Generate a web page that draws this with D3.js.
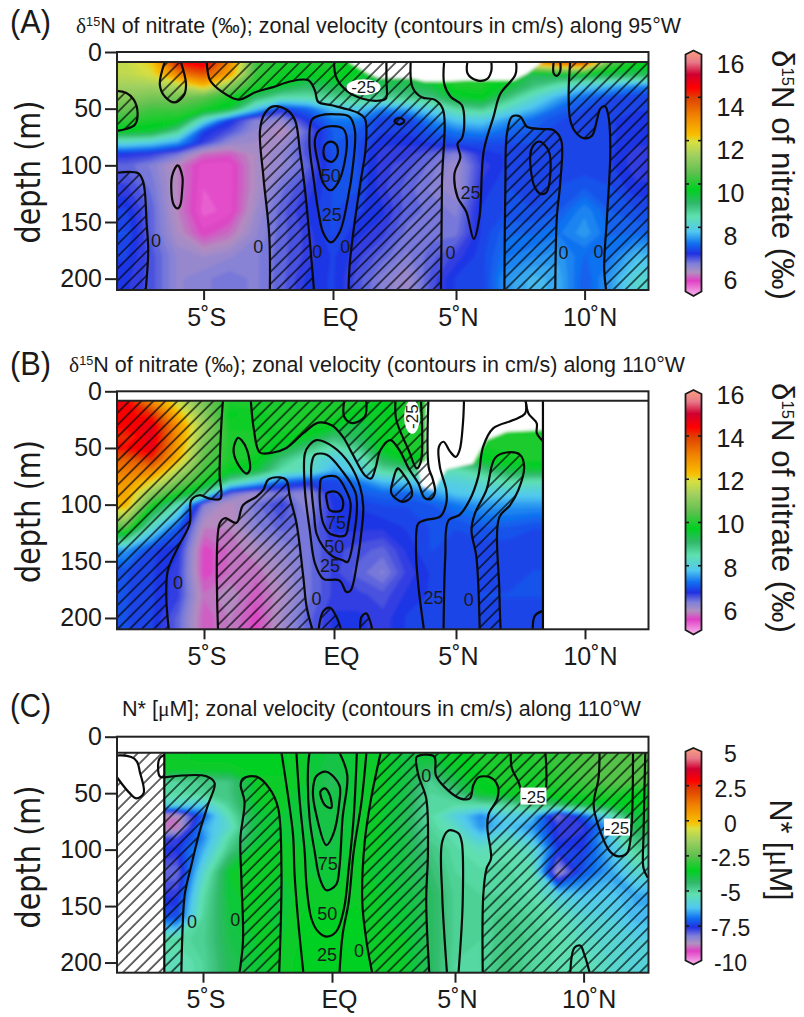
<!DOCTYPE html>
<html>
<head>
<meta charset="utf-8">
<script src="https://cdnjs.cloudflare.com/ajax/libs/d3/7.8.5/d3.min.js"></script>
<style>
body { margin: 0; background: #fff; }
text { font-family: "Liberation Sans", Arial, sans-serif; fill: #1a1a1a; }
</style>
</head>
<body>
<svg width="804" height="1017"></svg>
<script>
// Grid the colour fields were read on
var depthRows = [10, 20, 30, 40, 50, 60, 70, 80, 90, 100, 120, 140, 160, 180, 200];
var latRows = [-8, -7, -6, -5, -4, -3, -2, -1, 0, 1, 2, 3, 4, 5, 6, 7, 8, 9, 10, 11, 12];
var latRowsB = [-8, -7, -6, -5, -4, -3, -2, -1, 0, 1, 2, 3, 4, 5, 6, 7, 8, 9];

// d15N of nitrate along 95W
var fieldA = [
  [11.7, 12.1, 14.2, 14.6, 13, 10.3, 10, 10, 10, 9.8, 9.5, 9.4, 9.5, 9.5, 9.5, 9.5, 12.5, 13.3, 13.5, 10.5, 9.9],
  [11.6, 11.9, 13, 13.6, 12.6, 10.2, 9.9, 9.8, 9.9, 9.7, 9.4, 9.4, 9.6, 10, 10, 9.8, 9.3, 9.5, 9.6, 9.4, 9.3],
  [11.3, 11.3, 11.5, 12.3, 11, 10, 9.6, 9.2, 9.4, 9.5, 9.3, 9.3, 9.5, 10, 10, 9.6, 9, 8.5, 8, 7.8, 7.5],
  [11, 10.8, 10.8, 10.5, 10, 9.2, 8.6, 8.6, 8.8, 9, 8.8, 8.9, 9, 9.6, 9.8, 9, 8.3, 7.7, 7.3, 7.1, 7],
  [10.6, 10.3, 10.3, 10, 9.6, 8, 7, 7.3, 7.9, 8, 7.5, 7.7, 8.1, 8.7, 8.9, 8.3, 7.8, 7.3, 7.1, 7, 7],
  [10.2, 10, 9.9, 8.3, 7, 6.4, 6.3, 6.9, 7.4, 7.4, 7, 7, 7.5, 7.9, 8, 7.6, 7.3, 7.1, 7, 7, 6.9],
  [9.7, 9.6, 8.8, 7, 6.7, 6.3, 6, 6.6, 7.2, 7.2, 7, 7, 7.2, 7.4, 7.5, 7.3, 7.2, 7, 7, 7, 6.9],
  [8.2, 8, 7.6, 6.8, 6.3, 6.2, 6.2, 6.7, 7.2, 7.1, 6.9, 6.9, 7, 7.1, 7.1, 7.1, 7.1, 7, 7, 7, 6.9],
  [6.9, 6.8, 6.5, 5.9, 5.8, 6.1, 6.3, 6.7, 7.1, 7.1, 6.8, 6.8, 6.6, 6.4, 6.9, 7, 7, 7, 7, 7, 6.8],
  [6.6, 6.4, 6, 5.6, 5.6, 6.1, 6.3, 6.6, 7.1, 7.1, 6.8, 6.7, 6.5, 6.2, 6.8, 7, 7, 7, 7, 7, 6.8],
  [6.8, 6.5, 6, 5.55, 5.6, 6.1, 6.5, 6.8, 7.1, 7.1, 6.8, 6.6, 6.4, 6.2, 6.9, 7.1, 7, 7.1, 7.2, 7.1, 6.9],
  [7, 6.6, 6, 5.5, 5.6, 6.2, 6.6, 6.9, 7.1, 7, 6.9, 6.6, 6.5, 6.4, 7, 7.1, 7.1, 7.2, 7.5, 7.2, 7.1],
  [7.1, 6.6, 6.1, 5.7, 5.9, 6.3, 6.6, 6.8, 7.1, 6.9, 6.8, 6.5, 6.5, 6.5, 7, 7.3, 7.3, 7.4, 7.6, 7.3, 7.3],
  [7, 6.7, 6.3, 6.2, 6.3, 6.4, 6.6, 6.8, 7, 6.8, 6.6, 6.4, 6.6, 6.8, 7.05, 7.4, 7.5, 7.6, 7.3, 7.4, 7.8],
  [6.9, 6.7, 6.3, 6.4, 6.5, 6.4, 6.6, 6.9, 7, 6.7, 6.4, 6.2, 6.7, 7, 7, 7.6, 7.8, 7.7, 7.2, 7.6, 8.2]
];

// d15N of nitrate along 110W
var fieldB = [
  [14.5, 13, 11.8, 10.8, 10, 10, 10, 10, 10, 10, 9.8, 10, 10, 10, 10, 10, 10, 10],
  [14.4, 14, 12.3, 11, 9.8, 9.9, 10, 10, 10, 9.7, 9.7, 10, 9.9, 10, 10, 10, 10, 10],
  [14.4, 14.6, 12.8, 11.2, 9.9, 9.9, 10, 10, 9.8, 9.4, 9.7, 10, 10, 10, 10, 9.8, 9.6, 9.6],
  [14, 14.7, 12.8, 11, 10, 10, 9.9, 9.7, 9.1, 9.3, 9.8, 10, 10, 10, 10, 10, 10, 10],
  [14.3, 14.6, 12.6, 10.7, 10, 10, 9.6, 9, 8.5, 8.9, 9.8, 10, 10, 10, 9.9, 10, 10, 10],
  [13.5, 14, 12.3, 10.5, 10, 9.9, 9, 8.4, 8, 8.3, 9.3, 9.8, 9.5, 9.3, 9.7, 9.9, 10, 10],
  [13.2, 13, 11.5, 10.3, 9.8, 9.5, 8.6, 8.4, 7.7, 8.1, 8.7, 8.9, 8.7, 8.5, 8.9, 9.4, 9.5, 9.5],
  [12.8, 12, 10.8, 10, 8.7, 8, 7.3, 7, 7, 7.4, 7.8, 7.9, 8, 8.1, 8.3, 8.6, 8.5, 8.5],
  [12.6, 11, 10, 8.8, 6.6, 6.2, 6.5, 6.3, 7, 7.2, 7.3, 7.3, 7.6, 7.9, 8, 8, 8, 8],
  [12.4, 10, 8.5, 6.4, 6, 6.5, 6.8, 6.3, 6.9, 7, 7.1, 7.1, 7.2, 7.4, 7.6, 7.6, 7.6, 7.6],
  [10.5, 8.3, 7.2, 6, 6, 6.4, 6.6, 6.5, 6.9, 6.9, 6.9, 7, 7.1, 7.1, 7.2, 7.2, 7.1, 7.1],
  [7.6, 7, 6.9, 5.7, 5.9, 6.1, 6.3, 6.5, 6.8, 6.7, 6.6, 6.9, 7.1, 7, 7, 7, 7, 7],
  [7.1, 7, 6.8, 5.7, 5.9, 5.9, 6.2, 6.5, 6.8, 6.6, 6.4, 6.8, 7, 7, 7, 7, 7.1, 7.1],
  [7.1, 7, 6.8, 5.9, 6.1, 5.8, 6.1, 6.5, 6.8, 6.8, 6.7, 6.9, 7, 7, 7.1, 7.1, 7.1, 7.1],
  [7.1, 7, 6.6, 5.8, 6, 5.7, 6.2, 6.6, 6.9, 6.9, 6.8, 7, 7, 7, 7, 7, 7, 7]
];

// N* along 110W
var fieldC = [
  [-3.5, -3.5, -3.6, -3.5, -3.5, -3.5, -3.5, -3.7, -3.9, -3.7, -3.6, -3.9, -3.8, -3.5, -3.2, -3.2, -3.1, -3, -2.8, -2.5, -2.6],
  [-3.5, -3.5, -3.6, -3.5, -3.5, -3.5, -3.5, -3.7, -3.9, -3.7, -3.6, -3.9, -3.8, -3.6, -3.2, -3.2, -3.1, -2.9, -2.7, -2.5, -2.6],
  [-3.6, -3.6, -3.7, -3.7, -3.7, -3.5, -3.5, -3.7, -4, -3.7, -3.6, -3.9, -4.3, -3.7, -3.3, -3.1, -3.2, -2.9, -2.7, -2.5, -2.6],
  [-4.9, -4.9, -4.9, -4.7, -4.6, -3.7, -3.6, -3.7, -4.2, -3.7, -3.6, -3.9, -4.8, -4, -3.5, -3.1, -3.3, -3, -2.8, -2.5, -2.6],
  [-5, -5, -5, -4.8, -4.6, -3.7, -3.6, -3.8, -4, -3.7, -3.6, -4, -4.9, -4.6, -3.6, -3.4, -3.4, -3.2, -3.1, -3, -3.4],
  [-5.6, -5.6, -5.6, -5.9, -4.8, -3.7, -3.6, -3.9, -4, -3.7, -3.6, -4, -5, -5, -5, -4.9, -4.4, -4.2, -3.8, -3.6, -3.5],
  [-8.6, -8.6, -8.6, -7, -5.2, -3.9, -3.7, -3.9, -4, -3.7, -3.7, -4.1, -5, -5.8, -6.6, -5.8, -6.1, -8, -7, -5.5, -3.9],
  [-8.8, -8.8, -8.8, -6.4, -5.5, -3.9, -3.7, -3.9, -4, -3.7, -3.7, -4.1, -4.9, -5.4, -6.5, -6, -6.5, -7.5, -7.5, -6.3, -4],
  [-7.6, -7.6, -7.6, -6.6, -5, -3.9, -3.7, -3.8, -3.9, -3.7, -3.7, -4, -4.8, -5.1, -5.9, -5.4, -6.1, -7.5, -7.4, -6, -4.5],
  [-7.4, -7.4, -7.4, -6.3, -4.7, -3.7, -3.6, -3.7, -3.9, -3.6, -3.7, -4, -4.6, -5, -5.3, -5.1, -5.5, -7.3, -7.3, -6.2, -4.9],
  [-7.9, -7.9, -7.9, -5.6, -3.7, -3.6, -3.7, -3.7, -3.8, -3.6, -3.8, -4, -4.4, -4.9, -5, -5, -5.2, -8.4, -7, -6.4, -5.6],
  [-7.5, -7.5, -7.5, -5.1, -3.8, -3.5, -3.8, -3.6, -3.7, -3.6, -3.7, -3.9, -4.2, -4.8, -4.9, -4.9, -5.1, -5.8, -6.1, -6, -6.3],
  [-7.1, -7.1, -7.1, -4.9, -3.9, -3.6, -3.8, -3.5, -3.5, -3.5, -3.7, -3.8, -4.2, -4.8, -4.8, -4.7, -4.9, -5.2, -5.6, -5.8, -6.2],
  [-5, -5, -5, -4.8, -4, -3.7, -3.7, -3.5, -3.5, -3.5, -3.7, -3.7, -4.2, -4.8, -4.9, -4.6, -4.8, -5.1, -5.4, -5.6, -5.8],
  [-5.3, -5.3, -5.3, -4.9, -4.1, -3.8, -3.6, -3.5, -3.5, -3.5, -3.6, -3.7, -4.2, -4.9, -4.9, -4.5, -4.9, -5.1, -5.2, -5.5, -5.7]
];

// Colour bar, position along the bar -> colour
var barStops = [0, 0.021, 0.062, 0.097, 0.131, 0.172, 0.214, 0.262, 0.324, 0.379, 0.434, 0.503, 0.572, 0.628, 0.655, 0.738, 0.807, 0.848, 0.903, 0.952, 1];
var barColors = ["#f8b0f0", "#f090e0", "#e040c4", "#b090c0", "#8080d8", "#2030e4", "#1070f0", "#50c8f0", "#60e0b0", "#30b868", "#00d020", "#60c050", "#a0d060", "#d8e040", "#f8c000", "#f08000", "#e04000", "#ff0000", "#d00030", "#e87888", "#f8a080"];

// Velocity contours, [latitude, depth]
var a1 = [[-8.5, 34], [-8, 36], [-7.7, 42], [-7.55, 54], [-7.65, 64], [-8, 68], [-8.5, 70]];
var a2 = [[-6.49, 8], [-6.69, 29], [-6.49, 39.5], [-6.11, 44.5], [-5.76, 38], [-5.68, 28], [-5.89, 8]];
var a3 = [[-4.88, 8], [-4.75, 25], [-4.3, 35], [-3.66, 42], [-2.95, 35], [-2.31, 31], [-1.66, 26], [-0.95, 25], [-0.7, 34], [-0.57, 44], [-0.05, 47], [0.66, 51], [1.04, 54], [1.3, 59], [1.33, 84], [1.11, 116], [0.85, 155], [0.68, 187], [0.63, 211]];
var a4 = [[3.16, 8], [3.23, 31], [3.61, 40], [4.13, 42], [4.46, 50], [4.43, 116], [4.39, 211]];
var a5 = [[-8.5, 107], [-7.53, 107], [-7.33, 115], [-7.2, 152], [-7.14, 175], [-7.24, 211]];
var a6 = [[-2.44, 211], [-2.46, 163], [-2.69, 110], [-2.82, 69], [-2.63, 54], [-2.31, 48], [-1.79, 51], [-1.47, 60], [-1.28, 87], [-1.08, 122], [-0.91, 163], [-0.73, 211]];
var a7 = [[0.04, 8], [0.14, 23], [0.6, 35], [1.17, 41], [1.82, 43], [2.15, 41], [2.17, 25], [2.17, 8]];
var a8 = [[-6, 100], [-5.82, 110], [-5.83, 122], [-5.9, 135], [-6, 138], [-6.15, 135], [-6.25, 120], [-6.2, 108]];
var a9 = [[2.5, 61], [2.7, 58], [2.9, 61], [2.7, 64]];
var a25 = [[-0.82, 60], [-0.91, 81], [-0.76, 110], [-0.57, 140], [-0.37, 160], [-0.09, 168], [0.27, 159], [0.59, 131], [0.82, 98.5], [0.89, 69], [0.66, 57], [0.14, 55], [-0.5, 56]];
var a50 = [[-0.7, 78], [-0.57, 98.5], [-0.37, 116], [-0.09, 122], [0.21, 115], [0.46, 98.5], [0.55, 75], [0.4, 67.5], [-0.12, 65.5], [-0.53, 69]];
var a75 = [[-0.37, 88], [-0.31, 94], [-0.05, 97], [0.18, 91], [0.14, 82], [-0.09, 79], [-0.31, 82]];
var a10 = [[4.52, 8], [4.52, 28], [4.78, 39.5], [5.23, 47], [5.32, 63], [5.23, 76], [5.06, 81], [5.17, 93], [4.94, 107], [5.06, 128], [5.4, 141], [5.69, 165], [5.91, 146], [6.08, 87], [6.46, 57], [6.72, 37], [7.31, 20], [7.33, 8]];
var a11 = [[5.45, 8], [5.45, 19], [5.82, 25], [6.2, 24], [6.37, 17], [6.37, 8]];
var a12 = [[6.88, 211], [6.92, 116], [6.98, 72], [7.18, 57], [7.5, 57], [7.76, 66], [8.41, 68], [8.8, 69], [9.09, 78], [9.05, 116], [8.92, 146], [8.86, 211]];
var a13 = [[8.25, 79], [8.6, 87], [8.67, 107], [8.51, 124], [8.28, 125], [8.04, 118], [7.89, 90], [8.02, 82]];
var a14 = [[8.8, 8], [8.8, 19], [8.92, 21], [9.05, 17], [9.05, 8]];
var a15 = [[9.44, 8], [9.38, 37], [9.44, 60], [9.64, 70.5], [9.96, 76], [10.28, 74], [10.48, 60], [10.61, 50], [10.8, 48], [10.93, 57], [11, 87], [10.87, 146], [10.76, 190], [10.84, 211]];

var b1 = [[-4.27, 8], [-4.33, 28], [-4.4, 72.6], [-4.37, 94.7], [-4.78, 94.7], [-5.17, 91.7], [-5.49, 96], [-5.55, 116.8], [-6, 137.5], [-6.39, 158], [-6.45, 181.7], [-6.35, 211]];
var b2 = [[-4.46, 211], [-4.4, 116.8], [-4.2, 112], [-3.75, 116], [-3.5, 100.6], [-2.98, 93], [-2.72, 87], [-2.53, 78], [-2.08, 76], [-1.83, 78.5], [-1.7, 93], [-1.44, 116.8], [-1.18, 164], [-1.05, 190.6], [-0.82, 211]];
var b3 = [[-3.2, 8], [-3.08, 34], [-2.85, 54], [-2.34, 54], [-1.83, 50], [-1.18, 37], [-0.6, 27.7], [-0.09, 30], [0.36, 40], [0.75, 55], [1.26, 74], [1.52, 77], [1.71, 67], [1.9, 52], [2.31, 43], [2.68, 52], [3.06, 68], [3.45, 81], [3.71, 94], [3.97, 95], [4.14, 89], [4.04, 77], [3.88, 67], [3.87, 8]];
var b4 = [[-3.69, 41], [-3.86, 50.4], [-3.75, 62], [-3.37, 72.6], [-3.24, 69.6], [-3.34, 52], [-3.56, 43]];
var b5 = [[0.42, 8], [0.42, 22.4], [0.75, 28], [1.26, 22.4], [1.32, 8]];
var b6 = [[2.61, 68], [2.42, 78.5], [2.35, 90], [2.81, 97.6], [3.17, 93], [3.17, 85.8], [2.87, 74]];
var b7 = [[2.52, 8], [2.55, 25], [3.06, 52], [3.39, 68], [3.56, 62], [3.61, 34], [3.56, 8]];
var b8 = [[-0.6, 211], [-0.41, 194], [-0.15, 191], [0.1, 199], [0.3, 211]];
var b9 = [[1.07, 211], [1.13, 199], [1.32, 196], [1.45, 201], [1.58, 211]];
var b25 = [[-1.12, 55], [-0.95, 47.5], [-0.67, 43], [-0.03, 49], [0.62, 63.7], [1.07, 84.4], [1.2, 102], [1.13, 122.7], [0.94, 152], [0.68, 175.8], [0.51, 177], [0.23, 167], [-0.41, 165.5], [-0.73, 152], [-0.93, 122.7], [-1.12, 87]];
var b50 = [[-0.86, 63.7], [-0.73, 56], [-0.28, 56], [0.36, 71], [0.87, 88.8], [0.94, 99], [0.85, 122.7], [0.55, 150.7], [0.36, 149], [-0.03, 146], [-0.41, 137.5], [-0.67, 125.7], [-0.77, 108], [-0.86, 87]];
var b75 = [[-0.54, 84.4], [-0.48, 77], [0.1, 75.5], [0.55, 90], [0.68, 99], [0.59, 116.8], [0.46, 127], [-0.15, 125.7], [-0.41, 116.8], [-0.54, 99]];
var b100 = [[-0.28, 96], [-0.28, 90], [0.1, 88.8], [0.36, 96], [0.3, 105], [-0.15, 105]];
var b10 = [[3.69, 211], [3.45, 170], [3.36, 140], [3.45, 116.8], [3.71, 113.9], [4.36, 110.3], [4.6, 99], [4.6, 87], [4.34, 66.7], [4.3, 49], [4.49, 44.5], [4.75, 53], [4.99, 57.8], [5.14, 52], [5.27, 28], [5.31, 8]];
var b11 = [[4.49, 211], [4.56, 146], [4.69, 114], [5.14, 109], [5.53, 96], [5.86, 75.5], [6.05, 49], [6.44, 32.7], [7.22, 25.4], [7.68, 19.5], [7.7, 8]];
var b12 = [[7.7, 8], [7.81, 19.5], [8.13, 28.3], [8.13, 37], [8.39, 44.5]];
var b13 = [[5.92, 211], [5.79, 146], [5.6, 122.7], [5.73, 108], [6.18, 87], [6.51, 59], [6.96, 54], [7.48, 56], [7.64, 66.7], [7.42, 87], [7.09, 100.6], [6.68, 111], [6.68, 175.8], [6.73, 211]];
var b14 = [[7.97, 211], [8.06, 198], [8.39, 193.5]];
var b15 = [[8.37, 8], [8.37, 211]];

var c1 = [[-6.5, 36], [-4.87, 35], [-4.55, 41], [-4.81, 60.5], [-5.13, 84], [-5.45, 113.6], [-5.71, 140], [-5.8, 175.5], [-5.84, 211]];
var c2 = [[-3.6, 211], [-3.45, 181], [-3.51, 128], [-3.55, 90], [-3.39, 57.5], [-3.54, 43], [-3.45, 37], [-2.93, 35.4], [-2.42, 46], [-2.09, 63], [-1.96, 116.5], [-2.05, 211]];
var c3 = [[-6.5, 14], [-6.5, 211]];
var c4 = [[-8.5, 18], [-7.78, 18], [-7.56, 22], [-7.45, 31], [-7.3, 50], [-7.58, 54.6], [-7.84, 50], [-8.3, 37], [-8.5, 30]];
var c5 = [[-6.5, 36], [-6.68, 35], [-6.7, 20], [-6.5, 16]];
var c25L = [[-1.96, 14], [-1.71, 51.6], [-1.51, 87], [-1.45, 122], [-1.32, 161], [-1.1, 211]];
var c25R = [[1.4, 14], [1.2, 57.5], [0.88, 102], [0.68, 146], [0.43, 175.5], [0.3, 211]];
var c50 = [[-1.38, 14], [-1.25, 57.5], [-1.06, 102], [-0.99, 131], [-0.8, 161], [-0.54, 172.6], [-0.22, 177], [0.17, 172.6], [0.49, 152], [0.68, 116.5], [0.88, 72], [1.01, 14]];
var c75 = [[-0.87, 14], [-0.93, 28], [-0.87, 72], [-0.67, 102], [-0.48, 125], [-0.22, 136], [0.17, 131], [0.3, 116.5], [0.43, 72], [0.62, 34], [0.3, 14]];
var c100 = [[-0.74, 48.7], [-0.61, 69], [-0.22, 96], [0.04, 87], [0.3, 57.5], [0.3, 43], [-0.22, 31], [-0.61, 35]];
var c125 = [[-0.45, 48.7], [-0.28, 60.5], [-0.03, 63], [-0.09, 51.6], [-0.28, 45.7]];
var c0R = [[1.98, 14], [1.59, 54.6], [1.33, 93], [1.23, 146], [1.4, 181], [1.65, 211]];
var c6 = [[3.96, 211], [3.83, 146], [3.9, 102], [3.83, 54.6], [3.51, 34], [3.44, 18], [3.7, 16], [4.16, 17.7], [4.22, 34], [4.55, 44], [5.19, 54.6], [5.58, 54.6], [5.71, 43], [5.91, 36], [6.36, 36], [6.65, 43], [6.65, 54.6], [6.3, 69], [6.26, 81], [6.4, 108], [6.23, 116.5], [6.1, 140], [6.08, 211]];
var c7 = [[4.68, 211], [4.48, 140], [4.48, 93], [4.74, 83], [5.13, 85.5], [5.26, 93], [5.3, 146], [5.13, 211]];
var c8 = [[9.48, 211], [9.64, 187], [9.87, 185], [10.03, 193], [10.26, 211]];
var c9 = [[7.17, 14], [7.21, 28], [7.47, 40], [7.6, 49], [7.8, 55], [8.3, 55], [8.51, 48], [8.55, 28], [8.51, 14]];
var c10 = [[10.62, 14], [10.58, 37], [10.39, 60.5], [10.65, 84], [11.04, 102], [11.36, 106], [11.69, 103], [11.84, 87], [11.92, 14]];
var c11 = [[12.4, 14], [12.33, 87], [12.33, 116.5], [12.5, 125]];

// Where no measurement was made
var blankA = [[0.66, 0], [0.66, 9], [1.43, 19], [1.88, 23], [2.06, 23], [3.16, 23], [3.74, 26], [4.52, 26], [5.43, 25], [7.24, 25], [7.76, 19], [8.28, 10], [8.34, 0]];
var blankB = [[3.78, 0], [3.78, 60.8], [3.45, 65], [3.58, 84], [4.1, 87], [4.36, 77], [4.62, 68.7], [5.66, 63.7], [5.86, 55], [6.18, 43], [6.96, 35.7], [8.6, 34], [8.6, 0]];

// Contour labels: latitude, depth, text
var labelsA = [[-6.84, 166, "0"], [-2.89, 172, "0"], [-0.61, 176, "0"], [0.5, 172, "0"], [-0.09, 109, "50"], [-0.05, 143, "25"], [5.56, 124, "25"], [4.78, 177, "0"], [9.18, 177, "0"], [10.54, 176, "0"]];
var labelsB = [[-6, 169, "0"], [-0.67, 183, "0"], [0.08, 116, "75"], [0.01, 136.6, "50"], [-0.15, 154, "25"], [4.08, 181.7, "25"], [5.49, 184, "0"]];
var labelsC = [[-5.43, 164, "0"], [-3.75, 162, "0"], [-0.16, 112, "75"], [-0.18, 157, "50"], [-0.19, 193, "25"], [1.1, 189, "0"], [3.83, 34.5, "0"]];

var depthTicks = [0, 50, 100, 150, 200];
var latTicks = [-5, 0, 5, 10];
var latTickLabels = ["5˚S", "EQ", "5˚N", "10˚N"];
var barTicksAB = [6, 8, 10, 12, 14, 16];
var barTicksC = [-10, -7.5, -5, -2.5, 0, 2.5, 5];

var svg = d3.select("svg");
var defs = svg.append("defs");

defs.append("filter").attr("id", "soft")
    .attr("x", -0.05).attr("y", -0.05).attr("width", 1.1).attr("height", 1.1)
  .append("feGaussianBlur").attr("stdDeviation", 1.4);

defs.append("pattern").attr("id", "hatch")
    .attr("patternUnits", "userSpaceOnUse")
    .attr("width", 8.5).attr("height", 8.5)
    .attr("patternTransform", "rotate(45)")
  .append("line")
    .attr("x1", 1).attr("x2", 1).attr("y1", 0).attr("y2", 8.5)
    .attr("stroke", "#000").attr("stroke-width", 1.2);

var barColor = d3.scaleLinear().domain(barStops).range(barColors);

var gradient = defs.append("linearGradient").attr("id", "bar")
    .attr("x1", 0).attr("x2", 0).attr("y1", 1).attr("y2", 0);
barStops.forEach(function (s, i) {
    gradient.append("stop").attr("offset", s).attr("stop-color", barColors[i]);
});

function rev(a) { return a.slice().reverse(); }

// One panel: field, blanks, hatching, contours, labels, axes
function drawPanel(p) {
    var x = d3.scaleLinear().domain(latTicks).range(p.xTicks);
    var y = d3.scaleLinear().domain([0, p.depthMax]).range([p.top, p.bottom]);
    var left = 117, right = 648.5;
    var g = svg.append("g");

    var clipId = "clip" + p.id;
    defs.append("clipPath").attr("id", clipId).append("rect")
        .attr("x", left).attr("width", right - left)
        .attr("y", y(p.dataTop)).attr("height", p.bottom - y(p.dataTop));

    // pad the grid past the frame so the blur has no pale edge
    var xs = [p.lats[0] - 4].concat(p.lats, [p.lats[p.lats.length - 1] + 4]);
    var ys = [-20].concat(depthRows, [240]);
    var rows = [p.field[0]].concat(p.field, [p.field[p.field.length - 1]]);
    var values = [];
    rows.forEach(function (r) {
        var rr = [r[0]].concat(r, [r[r.length - 1]]);
        rr.forEach(function (v) { values.push(p.toBar(v)); });
    });

    function along(arr, v) {
        var u = Math.max(0, Math.min(arr.length - 1, v - 0.5));
        var i = Math.min(arr.length - 2, Math.floor(u));
        return arr[i] + (u - i) * (arr[i + 1] - arr[i]);
    }
    var gridPath = d3.geoPath(d3.geoTransform({
        point: function (a, b) { this.stream.point(x(along(xs, a)), y(along(ys, b))); }
    }));
    var contours = d3.contours().size([xs.length, ys.length]).thresholds(d3.range(0, 1, 0.01));

    var soft = g.append("g").attr("clip-path", "url(#" + clipId + ")")
      .append("g").attr("filter", "url(#soft)");
    soft.selectAll("path.band")
        .data(contours(values))
        .enter().append("path")
        .attr("class", "band")
        .attr("d", gridPath)
        .attr("fill", function (d) { return barColor(Math.min(1, d.value + 0.005)); });

    var open = d3.line().x(function (d) { return x(d[0]); }).y(function (d) { return y(d[1]); })
        .curve(d3.curveCatmullRom.alpha(0.5));
    var straight = d3.line().x(function (d) { return x(d[0]); }).y(function (d) { return y(d[1]); });
    var closed = d3.line().x(function (d) { return x(d[0]); }).y(function (d) { return y(d[1]); })
        .curve(d3.curveCatmullRomClosed.alpha(0.5));

    if (p.blank) {
        soft.append("path").attr("d", straight(p.blank) + "Z").attr("fill", "#fff");
    }

    var front = g.append("g").attr("clip-path", "url(#" + clipId + ")");
    if (p.blankSharp) {
        front.append("rect").attr("fill", "#fff")
            .attr("x", x(p.blankSharp[0])).attr("width", x(p.blankSharp[1]) - x(p.blankSharp[0]))
            .attr("y", y(0)).attr("height", p.bottom - y(0));
    }

    // negative flow is hatched
    p.hatch.forEach(function (h) {
        var d = h.pieces.map(function (piece, i) {
            var s = open(piece);
            return i ? s.replace(/^M/, "L") : s;
        }).join("") + "Z";
        if (h.holes) h.holes.forEach(function (c) { d += closed(c); });
        front.append("path").attr("d", d).attr("fill", "url(#hatch)").attr("fill-rule", "evenodd");
    });

    front.selectAll("path.open")
        .data(p.lines)
        .enter().append("path")
        .attr("class", "open")
        .attr("d", function (d) { return open(d); })
        .attr("fill", "none").attr("stroke", "#0a0a0a").attr("stroke-width", 2.2);
    front.selectAll("path.loop")
        .data(p.loops)
        .enter().append("path")
        .attr("class", "loop")
        .attr("d", function (d) { return closed(d); })
        .attr("fill", "none").attr("stroke", "#0a0a0a").attr("stroke-width", 2.2);

    front.selectAll("text.clab")
        .data(p.labels)
        .enter().append("text")
        .attr("class", "clab")
        .attr("x", function (d) { return x(d[0]); })
        .attr("y", function (d) { return y(d[1]); })
        .attr("dy", "0.36em")
        .attr("text-anchor", "middle")
        .attr("font-size", 18)
        .text(function (d) { return d[2]; });

    p.tags(front, x, y);

    // frame, axes
    g.append("rect").attr("x", left).attr("y", p.top)
        .attr("width", right - left).attr("height", p.bottom - p.top)
        .attr("fill", "none").attr("stroke", "#222").attr("stroke-width", 2);
    g.append("line").attr("x1", left).attr("x2", right)
        .attr("y1", y(p.dataTop)).attr("y2", y(p.dataTop))
        .attr("stroke", "#222").attr("stroke-width", 2);

    var yAxis = g.append("g").attr("transform", "translate(" + left + ",0)")
        .call(d3.axisLeft(y).tickValues(depthTicks).tickSize(12).tickPadding(3));
    var xAxis = g.append("g").attr("transform", "translate(0," + p.bottom + ")")
        .call(d3.axisBottom(x).tickValues(latTicks).tickSize(10).tickPadding(8)
            .tickFormat(function (d, i) { return latTickLabels[i]; }));
    yAxis.select(".domain").remove();
    xAxis.select(".domain").remove();
    g.selectAll(".tick line").attr("stroke", "#222").attr("stroke-width", 2);
    g.selectAll(".tick text").attr("font-family", null).attr("font-size", 25).attr("fill", "#1a1a1a");
    xAxis.selectAll(".tick text").attr("dx", function (d, i) { return [2.5, 7, 2, 5][i]; });

    // panel letter and title
    svg.append("text").attr("x", 10).attr("y", p.tagY).attr("font-size", 34)
        .attr("textLength", 41).attr("lengthAdjust", "spacingAndGlyphs").text(p.tag);
    var title = svg.append("text").attr("x", p.titleX).attr("y", p.titleY).attr("font-size", 22)
        .attr("textLength", p.titleW).attr("lengthAdjust", "spacingAndGlyphs");
    p.title(title);

    svg.append("text")
        .attr("transform", "translate(40," + p.depthY + ") rotate(-90)")
        .attr("text-anchor", "middle")
        .style("font-family", "'DejaVu Sans'")
        .attr("font-size", 34)
        .attr("textLength", 143).attr("lengthAdjust", "spacingAndGlyphs")
        .text("depth (m)");

    drawBar(p);
}

// Colour bar with pointed ends
function drawBar(p) {
    var b = p.bar;
    var bx0 = 685.5, bx1 = 701.5, mid = (bx0 + bx1) / 2;
    var g = svg.append("g");
    var outline = "M" + mid + "," + b.tipTop + "L" + bx1 + "," + b.top + "L" + bx1 + "," + b.bottom +
        "L" + mid + "," + b.tipBottom + "L" + bx0 + "," + b.bottom + "L" + bx0 + "," + b.top + "Z";
    g.append("path").attr("d", outline).attr("fill", "url(#bar)")
        .attr("stroke", "#1a1a1a").attr("stroke-width", 1.8);

    var tick = d3.scaleLinear().domain(b.domain).range(b.tickRange);
    var lab = d3.scaleLinear().domain(b.domain).range(b.labelRange);
    b.ticks.forEach(function (t, i) {
        if (i > 0 && i < b.ticks.length - 1) {
            [[bx0, bx0 + 3.5], [bx1 - 3.5, bx1]].forEach(function (s) {
                g.append("line").attr("x1", s[0]).attr("x2", s[1])
                    .attr("y1", tick(t)).attr("y2", tick(t))
                    .attr("stroke", "#1a1a1a").attr("stroke-width", 1.6);
            });
        }
        g.append("text").attr("x", 730.5).attr("y", lab(t)).attr("dy", "0.36em")
            .attr("text-anchor", "middle").attr("font-size", b.fontSize).text(t);
    });

    var side = g.append("text")
        .attr("transform", "translate(" + b.labelX + "," + b.labelY + ") rotate(90)")
        .attr("text-anchor", "middle")
        .attr("font-size", 32)
        .attr("textLength", b.labelLen).attr("lengthAdjust", "spacingAndGlyphs");
    b.label(side);
}

function tspans(sel, parts) {
    parts.forEach(function (q) {
        var t = sel.append("tspan").text(q.t);
        if (q.serif) t.style("font-family", "'Liberation Serif'");
        if (q.size) t.attr("font-size", q.size);
        if (q.dy) t.attr("dy", q.dy);
    });
}

function titleOf(where) {
    return function (t) {
        tspans(t, [{ t: "δ", serif: true }, { t: "15", size: 13, dy: -7 }, { t: "N of nitrate (‰); zonal velocity (contours in cm/s) along " + where, dy: 7 }]);
    };
}

function d15Label(t) {
    tspans(t, [{ t: "δ" }, { t: "15", size: 17, dy: -10 }, { t: "N of nitrate (‰)", dy: 10 }]);
}

function toBarD15(v) { return (v - 5) / 11; }
function toBarNstar(v) { return (v + 10) / 15; }

drawPanel({
    id: "A", tag: "(A)", tagY: 33, titleX: 76, titleY: 33, titleW: 605, title: titleOf("95°W"), depthY: 172,
    xTicks: [203.6, 333, 456, 584.6], top: 52, bottom: 290, depthMax: 210, dataTop: 8.8,
    lats: latRows, field: fieldA, toBar: toBarD15, blank: blankA,
    hatch: [
        { pieces: [a1, [[-8.5, 70], [-8.5, 34]]] },
        { pieces: [a2] },
        { pieces: [a3, rev(a4)] },
        { pieces: [a5, [[-8.5, 211], [-8.5, 107]]] },
        { pieces: [a6] },
        { pieces: [a12] },
        { pieces: [a15, [[12.8, 211], [12.8, 8]]] }
    ],
    lines: [a1, a2, a3, a4, a5, a6, a7, a10, a11, a12, a14, a15],
    loops: [a8, a9, a25, a50, a75, a13],
    labels: labelsA,
    tags: function (f, x, y) {
        f.append("ellipse").attr("cx", x(1.24)).attr("cy", y(31)).attr("rx", 17).attr("ry", 8).attr("fill", "#fff");
        f.append("text").attr("x", x(1.24)).attr("y", y(31)).attr("dy", "0.36em").attr("text-anchor", "middle").attr("font-size", 17).text("-25");
    },
    bar: { tipTop: 50.5, top: 54.5, bottom: 291.5, tipBottom: 296, ticks: barTicksAB, domain: [6, 14], tickRange: [270.7, 97.3], labelRange: [279.5, 106.7], fontSize: 25, labelX: 772, labelY: 175, labelLen: 250, label: d15Label }
});

drawPanel({
    id: "B", tag: "(B)", tagY: 375, titleX: 69, titleY: 371.5, titleW: 616, title: titleOf("110°W"), depthY: 511.5,
    xTicks: [204, 334, 456, 585], top: 391.3, bottom: 629.3, depthMax: 210, dataTop: 8.4,
    lats: latRowsB, field: fieldB, toBar: toBarD15, blank: blankB, blankSharp: [8.37, 14],
    hatch: [
        { pieces: [b1, [[-8.6, 211], [-8.6, 8]]] },
        { pieces: [b2] },
        { pieces: [b3] },
        { pieces: [b6] },
        { pieces: [b8] },
        { pieces: [b9] },
        { pieces: [b13] }
    ],
    lines: [b1, b2, b3, b5, b7, b8, b9, b10, b11, b12, b13, b14, b15],
    loops: [b4, b6, b25, b50, b75, b100],
    labels: labelsB,
    tags: function (f, x, y) {
        f.append("ellipse").attr("cx", x(3.2)).attr("cy", y(22.4)).attr("rx", 8).attr("ry", 17).attr("fill", "#fff");
        f.append("text").attr("transform", "translate(" + x(3.2) + "," + y(22.4) + ") rotate(-90)")
            .attr("dy", "0.36em").attr("text-anchor", "middle").attr("font-size", 17).text("-25");
    },
    bar: { tipTop: 390, top: 394, bottom: 630, tipBottom: 634.5, ticks: barTicksAB, domain: [6, 14], tickRange: [609, 436], labelRange: [610.7, 438], fontSize: 25, labelX: 772, labelY: 508, labelLen: 250, label: d15Label }
});

drawPanel({
    id: "C", tag: "(C)", tagY: 717, titleX: 122, titleY: 716, titleW: 519,
    title: function (t) {
        tspans(t, [{ t: "N* [" }, { t: "μ", serif: true }, { t: "M]; zonal velocity (contours in cm/s) along 110°W" }]);
    },
    depthY: 857,
    xTicks: [203, 332, 455, 583.6], top: 736.7, bottom: 972.7, depthMax: 209, dataTop: 14.2,
    lats: latRows, field: fieldC, toBar: toBarNstar, blankSharp: [-10, -6.5],
    hatch: [
        { pieces: [[[-8.6, 14], [-6.5, 14]], [[-6.5, 211], [-8.6, 211]]], holes: [c4] },
        { pieces: [c1, [[-6.5, 211], [-6.5, 36]]] },
        { pieces: [c2] },
        { pieces: [c0R, c6, [[12.8, 211], [12.8, 14]]] }
    ],
    lines: [c1, c2, c3, c5, c25L, c25R, c50, c75, c0R, c6, c7, c8, c9, c10, c11],
    loops: [c4, c100, c125],
    labels: labelsC,
    tags: function (f, x, y) {
        [[8.05, 53], [11.3, 80.5]].forEach(function (q) {
            f.append("rect").attr("x", x(q[0]) - 13).attr("y", y(q[1]) - 9).attr("width", 26).attr("height", 17).attr("fill", "#fff");
            f.append("text").attr("x", x(q[0])).attr("y", y(q[1])).attr("dy", "0.36em").attr("text-anchor", "middle").attr("font-size", 17).text("-25");
        });
    },
    bar: { tipTop: 748, top: 751.5, bottom: 960.5, tipBottom: 964.5, ticks: barTicksC, domain: [-7.5, 2.5], tickRange: [926, 785.7], labelRange: [928, 788.3], fontSize: 23, labelX: 770, labelY: 850, labelLen: 101,
        label: function (t) { tspans(t, [{ t: "N* [" }, { t: "μ", serif: true }, { t: "M]" }]); } }
});
</script>
</body>
</html>
